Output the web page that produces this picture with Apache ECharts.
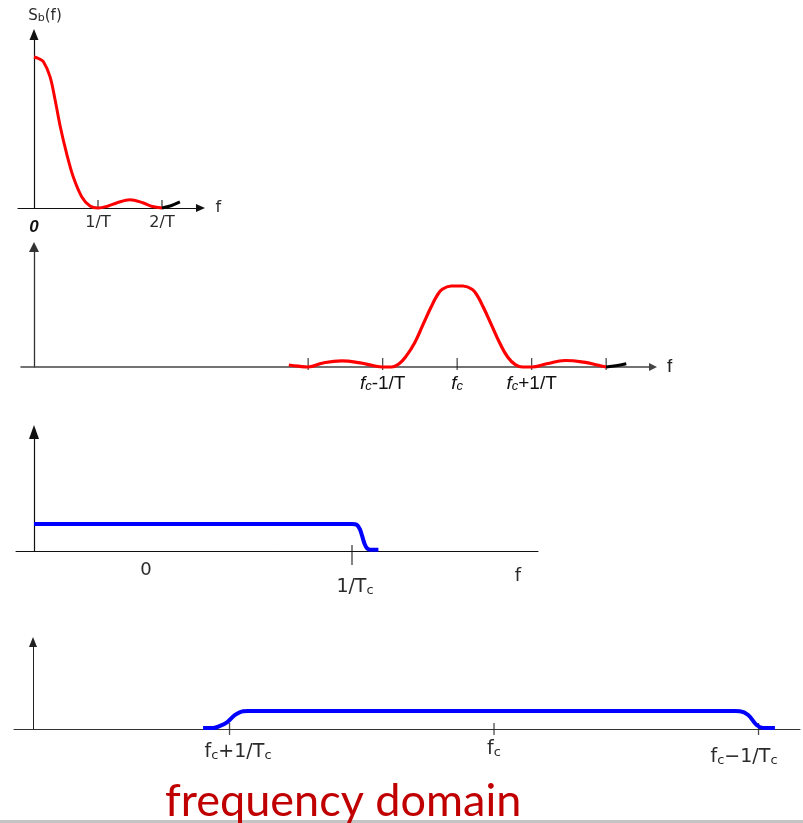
<!DOCTYPE html>
<html>
<head>
<meta charset="utf-8">
<script src="https://cdn.jsdelivr.net/npm/echarts@6/dist/echarts.min.js"></script>
<style>
html, body { margin: 0; padding: 0; background: #fff; }
#main { width: 803px; height: 823px; }
</style>
</head>
<body>
<div id="main"></div>
<script>
// ---- data ----
// panel 1: baseband spectrum Sb(f), f in units of 1/T
var bbFreq = [0, 0.07, 0.145, 0.25, 0.33, 0.41, 0.51, 0.61, 0.745, 0.875, 1.0, 1.15, 1.3, 1.5, 1.7, 1.85, 2.0];
var bbPower = [1.0, 0.99, 0.97, 0.87, 0.715, 0.54, 0.36, 0.21, 0.075, 0.013, 0.0, 0.012, 0.035, 0.055, 0.035, 0.01, 0.0];
var bbTailFreq = [2.0, 2.14, 2.28];
var bbTailPower = [0.0, 0.015, 0.04];
var bbTicks = [1, 2];
var bbLabels = [0, 1, 2];
var bbLabelText = ['0', '1/T', '2/T'];

// panel 2: passband spectrum around fc, offset in units of 1/T
var FC2 = 5.68;
var pbOffset = [-2.26, -2.13, -2.0, -1.8, -1.55, -1.3, -1.12, -1.0, -0.88, -0.78, -0.68, -0.57, -0.46, -0.35, -0.27, -0.2, -0.08, 0.08, 0.2, 0.27, 0.35, 0.46, 0.57, 0.68, 0.78, 0.88, 1.0, 1.2, 1.45, 1.7, 1.9, 2.0];
var pbPower = [0.025, 0.01, 0.0, 0.05, 0.075, 0.05, 0.015, 0.0, 0.0, 0.04, 0.14, 0.3, 0.52, 0.74, 0.88, 0.96, 1.0, 1.0, 0.96, 0.88, 0.74, 0.52, 0.3, 0.12, 0.03, 0.0, 0.0, 0.04, 0.08, 0.06, 0.02, 0.0];
var pbTailOffset = [2.0, 2.13, 2.27];
var pbTailPower = [0.0, 0.015, 0.04];
var pbTicks = [-2, -1, 0, 1, 2];
var pbLabels = [-1, 0, 1];

// panel 3: spread baseband, f in units of 1/Tc
var lpFreq = [0, 0.5, 0.99, 1.0, 1.015, 1.025, 1.032, 1.04, 1.048, 1.058, 1.083];
var lpLevel = [1, 1, 1, 1, 0.97, 0.8, 0.55, 0.25, 0.09, 0.05, 0.05];
var lpTicks = [1];
var lpLabels = [0.352, 1];

// panel 4: spread passband, offset from fc in units of 1/Tc
var FC4 = 1.743;
var spOffset = [-1.1, -1.062, -1.036, -1.007, -0.979, -0.948, -0.93, 0, 0.91, 0.93, 0.961, 0.993, 1.018, 1.062];
var spLevel = [0.05, 0.05, 0.17, 0.4, 0.78, 0.99, 1.0, 1.0, 1.0, 0.99, 0.78, 0.22, 0.05, 0.05];
var spTicks = [-1, 0, 1];
var spLabels = [-1, 0, 1];

// ---- layout (pixels) ----
var P1 = {ox: 34, oy: 208, sx: 64, sy: 151, xl: 18, xr: 200.5, yt: 34.5};
var P2 = {ox: 34, oy: 367, sx: 74.5, sy: 81, xl: 21, xr: 653, yt: 247};
var P3 = {ox: 34, oy: 551, sx: 318, sy: 27, xl: 16, xr: 538, yt: 432};
var P4 = {ox: 33, oy: 729, sx: 264.5, sy: 18, xl: 14, xr: 800, yt: 642};
var panels = [P1, P2, P3, P4];

function zip(xs, ys, shift) {
    return xs.map(function (x, i) { return [x + (shift || 0), ys[i]]; });
}
function shifted(xs, shift) {
    return xs.map(function (x) { return x + shift; });
}
function nearest(list, v) {
    var best = 0;
    for (var i = 1; i < list.length; i++) {
        if (Math.abs(list[i] - v) < Math.abs(list[best] - v)) best = i;
    }
    return best;
}

var gulim = "'DejaVu Sans', sans-serif";
var arial = "'Liberation Sans', Arial, sans-serif";

var grids = panels.map(function (p) {
    return {left: p.xl, top: p.yt, width: p.xr - p.xl, height: p.oy - p.yt,
        containLabel: false, outerBoundsMode: 'none'};
});

function yAxisFor(i, p, arrow, color, width, extra) {
    return Object.assign({
        type: 'value', gridIndex: i, min: 0, max: (p.oy - p.yt) / p.sy,
        axisLine: {show: true, onZero: true, symbol: ['none', 'triangle'], symbolSize: arrow,
            lineStyle: {color: color, width: width}},
        axisTick: {show: false}, axisLabel: {show: false}, splitLine: {show: false}
    }, extra || {});
}

function tickSeries(axis, ticks, len, off, color) {
    return {
        type: 'scatter', xAxisIndex: axis, yAxisIndex: axis, silent: true,
        data: ticks.map(function (t) { return [t, 0]; }),
        symbol: 'rect', symbolSize: [1.3, len], symbolOffset: [0, off],
        itemStyle: {color: color}, z: 1
    };
}

function curve(axis, data, color, width, smooth) {
    return {
        type: 'line', xAxisIndex: axis, yAxisIndex: axis, data: data,
        smooth: smooth || 0.35, showSymbol: false, clip: false, silent: true,
        lineStyle: {color: color, width: width}, z: 3
    };
}

var txt = '#2a2a2a';
var sub2 = {fontFamily: arial, fontSize: 13, fontStyle: 'italic', lineHeight: 7, verticalAlign: 'bottom', color: '#111'};
var sub = {fontFamily: gulim, fontSize: 13, lineHeight: 7, verticalAlign: 'bottom', color: txt};
var main19 = {fontFamily: gulim, fontSize: 19, lineHeight: 19, color: txt};

var option = {
    animation: false,
    backgroundColor: '#fff',
    title: {
        text: 'frequency domain', left: 165, top: 779, padding: 0,
        textStyle: {color: '#c00000', fontFamily: 'Lato', fontSize: 45, fontWeight: 'normal'}
    },
    graphic: [{
        type: 'rect', left: 0, top: 820, silent: true,
        shape: {width: 803, height: 3}, style: {fill: '#c4c4c4'}
    }],
    grid: grids,
    xAxis: [
        {
            type: 'value', gridIndex: 0, min: (P1.xl - P1.ox) / P1.sx, max: (P1.xr - P1.ox) / P1.sx,
            name: 'f', nameLocation: 'end', nameGap: 15,
            nameTextStyle: {fontFamily: gulim, fontSize: 16, color: txt},
            axisLine: {show: true, symbol: ['none', 'triangle'], symbolSize: [8, 9], lineStyle: {color: '#111', width: 1.2}},
            axisTick: {show: false}, splitLine: {show: false},
            axisLabel: {
                customValues: bbLabels, margin: 7, fontFamily: gulim, fontSize: 16, lineHeight: 16, color: txt,
                formatter: function (v) {
                    var k = nearest(bbLabels, v);
                    return k === 0 ? '{gap| }\n{z|0}' : bbLabelText[k];
                },
                rich: {
                    gap: {lineHeight: 4, fontSize: 4},
                    z: {fontFamily: arial, fontStyle: 'italic', fontWeight: 'bold', fontSize: 17, lineHeight: 17, color: '#111'}
                }
            }
        },
        {
            type: 'value', gridIndex: 1, min: (P2.xl - P2.ox) / P2.sx, max: (P2.xr - P2.ox) / P2.sx,
            name: 'f', nameLocation: 'end', nameGap: 14,
            nameTextStyle: {fontFamily: arial, fontSize: 19, color: '#222'},
            axisLine: {show: true, symbol: ['none', 'triangle'], symbolSize: [8, 8], lineStyle: {color: '#444', width: 1.5}},
            axisTick: {show: false}, splitLine: {show: false},
            axisLabel: {
                customValues: shifted(pbLabels, FC2), margin: 7, fontFamily: arial, fontSize: 19, lineHeight: 19, color: '#111',
                formatter: function (v) {
                    var d = pbLabels[nearest(shifted(pbLabels, FC2), v)];
                    var tail = d < 0 ? '-1/T' : (d > 0 ? '+1/T' : '');
                    return '{i|f}{s|c}' + (tail ? '{n|' + tail + '}' : '');
                },
                rich: {
                    i: {fontFamily: arial, fontStyle: 'italic', fontSize: 19, lineHeight: 19, color: '#111'},
                    s: sub2,
                    n: {fontFamily: arial, fontSize: 19, lineHeight: 19, color: '#111'}
                }
            }
        },
        {
            type: 'value', gridIndex: 2, min: (P3.xl - P3.ox) / P3.sx, max: (P3.xr - P3.ox) / P3.sx,
            name: 'f', nameLocation: 'end', nameGap: -20,
            nameTextStyle: {fontFamily: gulim, fontSize: 18, color: txt, align: 'center', verticalAlign: 'top', padding: [16, 0, 0, 0]},
            axisLine: {show: true, lineStyle: {color: '#111', width: 1}},
            axisTick: {show: false}, splitLine: {show: false},
            axisLabel: {
                customValues: lpLabels, margin: 10, fontFamily: gulim, fontSize: 18, lineHeight: 19, color: txt,
                formatter: function (v) {
                    return nearest(lpLabels, v) === 0 ? '0' : '{gap| }\n{n|1/T}{s|c}';
                },
                rich: {
                    gap: {lineHeight: 17, fontSize: 4},
                    n: Object.assign({}, main19, {padding: [0, 0, 0, 6]}),
                    s: sub
                }
            }
        },
        {
            type: 'value', gridIndex: 3, min: (P4.xl - P4.ox) / P4.sx, max: (P4.xr - P4.ox) / P4.sx,
            axisLine: {show: true, lineStyle: {color: '#333', width: 1}},
            axisTick: {show: false}, splitLine: {show: false},
            axisLabel: {
                customValues: shifted(spLabels, FC4), margin: 11, fontFamily: gulim, fontSize: 19, lineHeight: 19, color: txt,
                formatter: function (v) {
                    var d = spLabels[nearest(shifted(spLabels, FC4), v)];
                    if (d < 0) return '{g1| }\n{l|f}{s|c}{n|+1/T}{s|c}';
                    if (d > 0) return '{g2| }\n{n|f}{s|c}{n|\u22121/T}{r|c}';
                    return '{n|f}{s|c}';
                },
                rich: {
                    g1: {lineHeight: 3, fontSize: 3},
                    g2: {lineHeight: 8, fontSize: 4},
                    l: Object.assign({}, main19, {padding: [0, 0, 0, 17]}),
                    n: main19,
                    s: sub,
                    r: Object.assign({}, sub, {padding: [0, 29, 0, 0]})
                }
            }
        }
    ],
    yAxis: [
        yAxisFor(0, P1, [9, 11], '#111', 1.2, {
            name: '{n|S}{s|b}{n|(f)}', nameLocation: 'end', nameGap: 11,
            nameTextStyle: {
                align: 'center', padding: [0, 0, 0, 22],
                rich: {
                    n: {fontFamily: gulim, fontSize: 15, lineHeight: 15, color: txt},
                    s: {fontFamily: gulim, fontSize: 11, lineHeight: 6, verticalAlign: 'bottom', color: txt}
                }
            }
        }),
        yAxisFor(1, P2, [10, 10], '#333', 1.3),
        yAxisFor(2, P3, [10, 14], '#111', 1.2),
        yAxisFor(3, P4, [8, 10], '#222', 1)
    ],
    series: [
        curve(0, zip(bbFreq, bbPower), '#ff0000', 3),
        curve(0, zip(bbTailFreq, bbTailPower), '#000000', 3),
        tickSeries(0, bbTicks, 9, -3.5, '#111'),

        curve(1, zip(pbOffset, pbPower, FC2), '#ff0000', 3.2, 0.45),
        curve(1, zip(pbTailOffset, pbTailPower, FC2), '#000000', 3),
        tickSeries(1, shifted(pbTicks, FC2), 12, -3, '#222'),

        curve(2, zip(lpFreq, lpLevel), '#0000ff', 4),
        tickSeries(2, lpTicks, 20, 4, '#111'),

        curve(3, zip(spOffset, spLevel, FC4), '#0000ff', 4),
        tickSeries(3, shifted(spTicks, FC4), 12, 0, '#222')
    ]
};

var chart = echarts.init(document.getElementById('main'));
chart.setOption(option);
</script>
</body>
</html>
